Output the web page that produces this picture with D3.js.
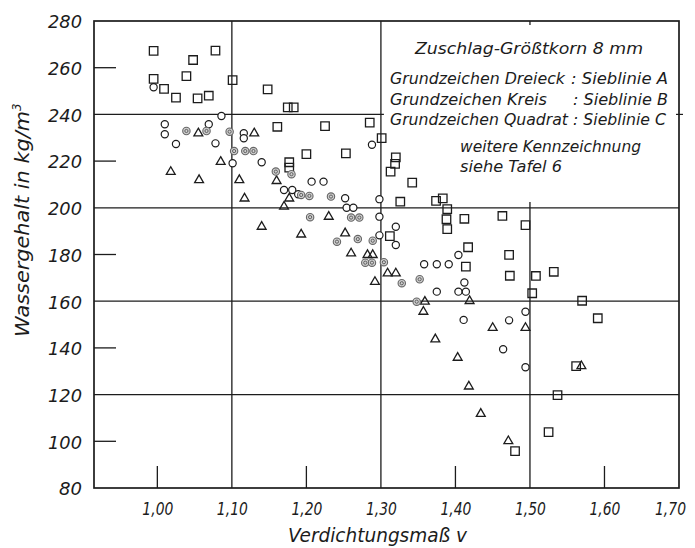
<!DOCTYPE html>
<html><head><meta charset="utf-8">
<script src="https://cdn.jsdelivr.net/npm/d3@7/dist/d3.min.js"></script>
<style>
body{margin:0;background:#fff;}
svg text{font-family:"DejaVu Sans",sans-serif;font-style:italic;fill:#1c1c1c;}
</style>
</head><body>
<svg id="chart" width="695" height="548"></svg>
<script>
// ---------- data ----------
const xTicks = [1.00, 1.10, 1.20, 1.30, 1.40, 1.50, 1.60, 1.70];
const xTickLabels = ["1,00", "1,10", "1,20", "1,30", "1,40", "1,50", "1,60", "1,70"];
const yTicks = [80, 100, 120, 140, 160, 180, 200, 220, 240, 260, 280];
const yTickLabels = ["80", "100", "120", "140", "160", "180", "200", "220", "240", "260", "280"];
const gridX = [1.10, 1.30, 1.50];
const shortX = [1.00, 1.20, 1.40, 1.60];
const gridY = [240, 200, 160, 120];
const shortY = [260, 220, 180, 140, 100];

// Grundzeichen Dreieck : Sieblinie A
const triangleA = [
  [1.018, 215.4], [1.055, 231.9], [1.056, 211.9], [1.085, 219.7], [1.110, 211.9],
  [1.117, 204.0], [1.130, 231.9], [1.140, 191.9], [1.160, 211.5], [1.170, 200.5],
  [1.177, 204.0], [1.193, 188.6], [1.230, 196.2], [1.252, 189.1], [1.260, 180.5],
  [1.282, 179.8], [1.289, 179.8], [1.292, 168.3], [1.309, 171.9], [1.320, 171.9],
  [1.359, 159.8], [1.357, 155.5], [1.373, 143.7], [1.403, 135.8], [1.419, 160.1],
  [1.418, 123.5], [1.434, 111.8], [1.450, 148.6], [1.471, 100.1], [1.494, 148.6],
  [1.569, 132.2]
];
// Grundzeichen Kreis : Sieblinie B
const circleB = [
  [0.995, 251.6], [1.010, 235.8], [1.010, 231.5], [1.025, 227.3], [1.069, 235.8],
  [1.078, 227.6], [1.086, 239.3], [1.101, 219.1], [1.116, 231.9], [1.116, 229.8],
  [1.140, 219.5], [1.170, 207.6], [1.181, 207.6], [1.189, 205.8], [1.207, 211.2],
  [1.223, 211.2], [1.252, 204.1], [1.254, 200.0], [1.263, 200.0], [1.288, 227.0],
  [1.298, 203.7], [1.298, 196.2], [1.298, 188.2], [1.320, 191.9], [1.320, 184.1],
  [1.358, 175.8], [1.375, 175.8], [1.391, 175.8], [1.404, 179.8], [1.375, 164.1],
  [1.412, 168.0], [1.404, 164.1], [1.414, 164.1], [1.411, 152.0], [1.472, 151.8],
  [1.494, 155.5], [1.464, 139.4], [1.494, 131.7]
];
// Kreis mit weiterer Kennzeichnung (siehe Tafel 6)
const circleBMarked = [
  [1.039, 232.9], [1.066, 232.9], [1.097, 232.6], [1.103, 224.3], [1.118, 224.3],
  [1.129, 224.3], [1.159, 215.5], [1.180, 214.4], [1.193, 205.5], [1.204, 205.1],
  [1.233, 204.8], [1.205, 196.0], [1.260, 195.8], [1.271, 195.8], [1.241, 185.5],
  [1.269, 186.6], [1.289, 185.9], [1.279, 176.5], [1.288, 176.5], [1.304, 176.7],
  [1.328, 167.7], [1.352, 169.4], [1.348, 159.8]
];
// Grundzeichen Quadrat : Sieblinie C
const squareC = [
  [0.995, 267.2], [1.078, 267.3], [1.048, 263.3], [1.039, 256.4], [0.995, 255.2],
  [1.009, 250.9], [1.025, 247.2], [1.054, 246.9], [1.069, 248.0], [1.101, 254.7],
  [1.148, 250.7], [1.175, 243.0], [1.183, 243.0], [1.161, 234.7], [1.177, 219.5],
  [1.177, 217.2], [1.200, 223.0], [1.225, 235.0], [1.253, 223.3], [1.285, 236.5],
  [1.301, 229.8], [1.320, 221.6], [1.319, 218.8], [1.313, 215.5], [1.342, 210.8],
  [1.326, 202.6], [1.374, 203.0], [1.383, 204.0], [1.389, 199.4], [1.388, 195.1],
  [1.389, 190.9], [1.412, 195.3], [1.463, 196.5], [1.494, 192.6], [1.417, 183.1],
  [1.472, 179.8], [1.414, 174.8], [1.473, 170.9], [1.508, 170.8], [1.532, 172.6],
  [1.503, 163.4], [1.570, 160.2], [1.591, 152.7], [1.562, 132.2], [1.537, 119.8],
  [1.525, 103.9], [1.480, 95.8], [1.312, 187.9]
];

const xTitle = "Verdichtungsmaß v";
const yTitle = "Wassergehalt in kg/m";
const noteTitle = "Zuschlag-Größtkorn  8 mm";
const noteLeft = ["Grundzeichen Dreieck", "Grundzeichen Kreis", "Grundzeichen Quadrat"];
const noteRight = [": Sieblinie A", ": Sieblinie B", ": Sieblinie C"];
const noteExtra = ["weitere Kennzeichnung", "siehe Tafel 6"];

// ---------- scales ----------
const L = 94, R = 679, T = 21, B = 488;
const x = d3.scaleLinear().domain([0.915, 1.70]).range([L, R]);
const y = d3.scaleLinear().domain([80, 280]).range([B, T]);
const ink = "#1c1c1c";

const svg = d3.select("#chart");
svg.append("rect").attr("width", 695).attr("height", 548).attr("fill", "#fff");

// ---------- grid ----------
const g = svg.append("g").attr("stroke", ink).attr("fill", "none");
g.selectAll(".gx").data(gridX).join("line")
  .attr("x1", d => x(d)).attr("x2", d => x(d))
  .attr("y1", d => d === 1.50 ? y(202.5) : T)
  .attr("y2", B).attr("stroke-width", 1.3);
g.append("line").attr("x1", x(1.50)).attr("x2", x(1.50)).attr("y1", T).attr("y2", T + 4).attr("stroke-width", 1.3);
g.selectAll(".gy").data(gridY).join("line")
  .attr("x1", L)
  .attr("x2", d => d === 240 ? x(1.30) + 3 : R)
  .attr("y1", d => y(d)).attr("y2", d => y(d)).attr("stroke-width", 1.3);
g.append("line").attr("x1", R - 3).attr("x2", R + 4).attr("y1", y(240)).attr("y2", y(240)).attr("stroke-width", 1.2);
g.selectAll(".sx").data(shortX).join("line")
  .attr("x1", d => x(d)).attr("x2", d => x(d))
  .attr("y1", B).attr("y2", B - 22).attr("stroke-width", 1.3);
g.selectAll(".sy").data(shortY).join("line")
  .attr("x1", L).attr("x2", L + 22)
  .attr("y1", d => y(d)).attr("y2", d => y(d)).attr("stroke-width", 1.3);
g.append("rect").attr("x", L).attr("y", T).attr("width", R - L).attr("height", B - T)
  .attr("stroke-width", 1.7);

// ---------- axes (labels) ----------
const xAxis = d3.axisBottom(x).tickValues(xTicks)
  .tickFormat((d, i) => xTickLabels[i]).tickSize(0);
const gx = svg.append("g").attr("transform", `translate(0,${B})`).call(xAxis);
gx.select(".domain").remove();
gx.selectAll("text").attr("y", 27).attr("dy", null)
  .attr("x", d => d >= 1.695 ? -9 : 0)
  .attr("font-size", 18).attr("fill", ink)
  .attr("textLength", 31).attr("lengthAdjust", "spacingAndGlyphs");

const yAxis = d3.axisLeft(y).tickValues(yTicks)
  .tickFormat((d, i) => yTickLabels[i]).tickSize(0).tickPadding(12);
const gy = svg.append("g").attr("transform", `translate(${L},0)`).call(yAxis);
gy.select(".domain").remove();
gy.selectAll("text").attr("dy", "0.38em").attr("font-size", 18).attr("fill", ink)
  .attr("textLength", d => String(d).length === 2 ? 23 : 34)
  .attr("lengthAdjust", "spacingAndGlyphs");

// titles
svg.append("text").attr("x", 288).attr("y", 542).attr("font-size", 19)
  .attr("textLength", 179).attr("lengthAdjust", "spacingAndGlyphs").text(xTitle);
const yt = svg.append("text")
  .attr("transform", "translate(29,337) rotate(-90)")
  .attr("font-size", 19);
yt.append("tspan").attr("textLength", 226).attr("lengthAdjust", "spacingAndGlyphs").text(yTitle);
yt.append("tspan").attr("dy", -8).attr("font-size", 12).text("3");

// ---------- annotation ----------
const note = svg.append("g").attr("font-size", 16).attr("fill", ink);
note.append("text").attr("x", 415).attr("y", 54).attr("textLength", 228)
  .attr("lengthAdjust", "spacingAndGlyphs").text(noteTitle);
const leftEnds = [565, 547, 568];
const rightStarts = [571, 573, 573];
const rightEnds = [668, 668, 666];
const rowY = [84, 105, 125];
noteLeft.forEach((t, i) => {
  note.append("text").attr("x", 390).attr("y", rowY[i])
    .attr("textLength", leftEnds[i] - 390).attr("lengthAdjust", "spacingAndGlyphs").text(t);
  note.append("text").attr("x", rightStarts[i]).attr("y", rowY[i])
    .attr("textLength", rightEnds[i] - rightStarts[i]).attr("lengthAdjust", "spacingAndGlyphs").text(noteRight[i]);
});
note.append("text").attr("x", 460).attr("y", 152).attr("textLength", 181)
  .attr("lengthAdjust", "spacingAndGlyphs").text(noteExtra[0]);
note.append("text").attr("x", 460).attr("y", 172).attr("textLength", 102)
  .attr("lengthAdjust", "spacingAndGlyphs").text(noteExtra[1]);

// ---------- markers ----------
const m = svg.append("g");
m.selectAll(".tri").data(triangleA).join("path")
  .attr("transform", d => `translate(${x(d[0])},${y(d[1])})`)
  .attr("d", d3.symbol(d3.symbolTriangle, 34)())
  .attr("fill", "none").attr("stroke", ink).attr("stroke-width", 1.3);
m.selectAll(".sq").data(squareC).join("path")
  .attr("transform", d => `translate(${x(d[0])},${y(d[1])})`)
  .attr("d", d3.symbol(d3.symbolSquare, 72)())
  .attr("fill", "none").attr("stroke", ink).attr("stroke-width", 1.3);
m.selectAll(".ci").data(circleB).join("circle")
  .attr("cx", d => x(d[0])).attr("cy", d => y(d[1])).attr("r", 3.6)
  .attr("fill", "#fff").attr("stroke", ink).attr("stroke-width", 1.2);
const mk = m.selectAll(".mk").data(circleBMarked).join("g")
  .attr("transform", d => `translate(${x(d[0])},${y(d[1])})`);
mk.append("circle").attr("r", 3.7).attr("fill", "#cfcfcf").attr("stroke", "#666").attr("stroke-width", 1.1);
mk.append("circle").attr("r", 1.6).attr("fill", "none").attr("stroke", "#555").attr("stroke-width", 0.9);
</script>
</body></html>
